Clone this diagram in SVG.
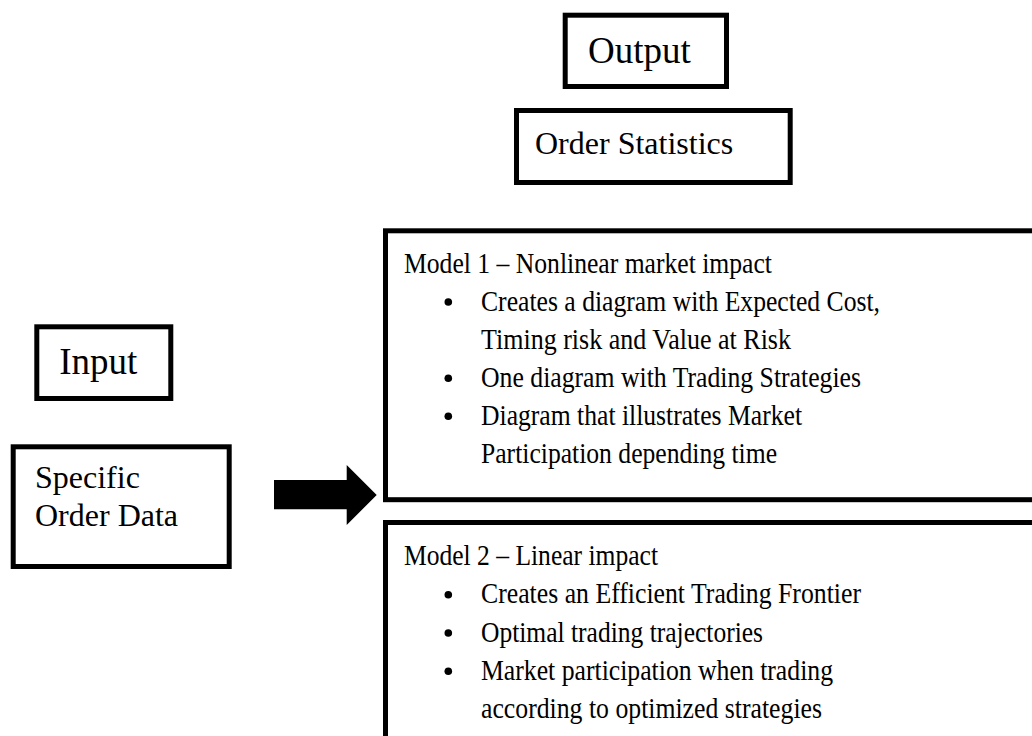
<svg xmlns="http://www.w3.org/2000/svg" width="1032" height="736" viewBox="0 0 1032 736">
<style>
.box{fill:#fff;stroke:#000;stroke-width:5}
.t{font-family:"Liberation Serif","Times New Roman",serif;fill:#000}
.big{font-size:37px}
.mid{font-size:32px}
.sm{font-size:28.7px}
.bul{fill:#000}
</style>
<rect width="1032" height="736" fill="#fff"/>
<g id="output">
<rect class="box" x="565.2" y="15.2" width="161.3" height="71.3"/>
<text class="t big" x="588" y="63">Output</text>
</g>
<g id="order-statistics">
<rect class="box" x="516.5" y="110.5" width="273.7" height="72"/>
<text class="t mid" x="535" y="154">Order Statistics</text>
</g>
<g id="input">
<rect class="box" x="36.8" y="326.8" width="134" height="71.7"/>
<text class="t big" x="59.3" y="374">Input</text>
</g>
<g id="specific-order-data">
<rect class="box" x="13.2" y="446.8" width="216" height="119.7"/>
<text class="t mid" x="35" y="488">Specific</text>
<text class="t mid" x="35" y="525.5">Order Data</text>
</g>
<g id="model1">
<rect class="box" x="385.5" y="230.8" width="660" height="268.9"/>
<text class="t sm" x="404" y="272.5" textLength="368" lengthAdjust="spacingAndGlyphs">Model 1 – Nonlinear market impact</text>
<circle class="bul" cx="448.3" cy="302" r="3.8"/>
<text class="t sm" x="481" y="310.6" textLength="399" lengthAdjust="spacingAndGlyphs">Creates a diagram with Expected Cost,</text>
<text class="t sm" x="481" y="348.7" textLength="310" lengthAdjust="spacingAndGlyphs">Timing risk and Value at Risk</text>
<circle class="bul" cx="448.3" cy="378.2" r="3.8"/>
<text class="t sm" x="481" y="386.8" textLength="380" lengthAdjust="spacingAndGlyphs">One diagram with Trading Strategies</text>
<circle class="bul" cx="448.3" cy="416.3" r="3.8"/>
<text class="t sm" x="481" y="424.9" textLength="321" lengthAdjust="spacingAndGlyphs">Diagram that illustrates Market</text>
<text class="t sm" x="481" y="463" textLength="296" lengthAdjust="spacingAndGlyphs">Participation depending time</text>
</g>
<g id="model2">
<rect class="box" x="385.5" y="522.5" width="660" height="240"/>
<text class="t sm" x="404" y="565" textLength="254" lengthAdjust="spacingAndGlyphs">Model 2 – Linear impact</text>
<circle class="bul" cx="448.3" cy="594.7" r="3.8"/>
<text class="t sm" x="481" y="603.3" textLength="380" lengthAdjust="spacingAndGlyphs">Creates an Efficient Trading Frontier</text>
<circle class="bul" cx="448.3" cy="633" r="3.8"/>
<text class="t sm" x="481" y="641.6" textLength="282" lengthAdjust="spacingAndGlyphs">Optimal trading trajectories</text>
<circle class="bul" cx="448.3" cy="671.3" r="3.8"/>
<text class="t sm" x="481" y="679.9" textLength="352" lengthAdjust="spacingAndGlyphs">Market participation when trading</text>
<text class="t sm" x="481" y="718.2" textLength="341" lengthAdjust="spacingAndGlyphs">according to optimized strategies</text>
</g>
<g id="connectors">
<polygon points="274,480 346.7,480 346.7,465 376.7,495 346.7,525 346.7,509.3 274,509.3" fill="#000"/>
</g>
</svg>
